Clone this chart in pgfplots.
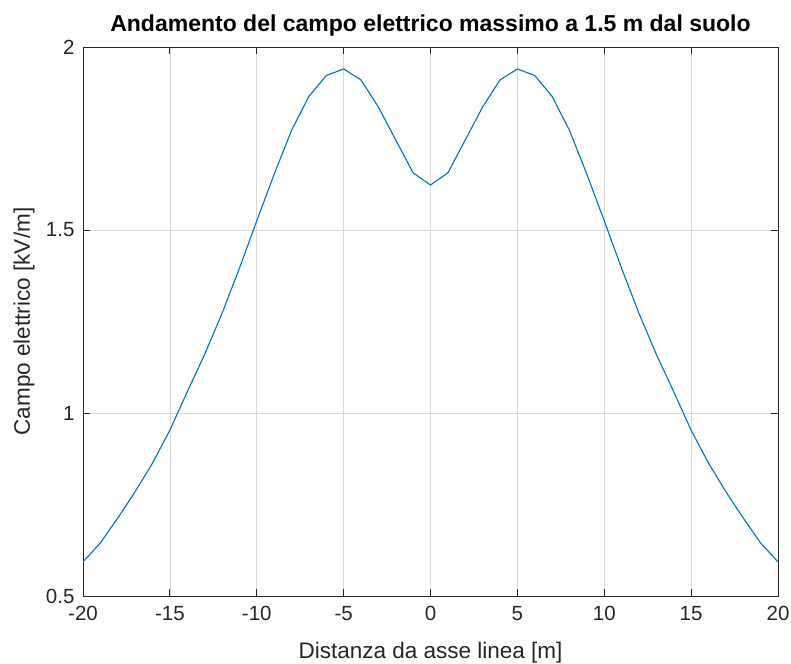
\documentclass[border=0pt]{standalone}
\usepackage{fontspec}
\setmainfont{Liberation Sans}
\usepackage{pgfplots}
\pgfplotsset{compat=1.18}

\definecolor{mlblue}{rgb}{0,0.447,0.741}
\definecolor{axgray}{rgb}{0.15,0.15,0.15}

\begin{document}
\begin{tikzpicture}
\begin{axis}[
    scale only axis,
    width=695pt, height=549pt,
    xmin=-20, xmax=20, ymin=0.5, ymax=2,
    xtick={-20,-15,...,20},
    ytick={0.5,1,1.5,2},
    yticklabels={0.5,1,1.5,2},
    tick align=inside,
    major tick length=7pt,
    axis line style={axgray, line width=0.8pt},
    tick style={axgray, line width=0.8pt},
    grid=major,
    major grid style={black!15, line width=0.7pt},
    /pgf/number format/assume math mode=true,
    ticklabel style={font=\fontsize{20.5}{22}\selectfont, text=axgray},
    xticklabel style={yshift=-7pt},
    yticklabel style={xshift=-5pt},
    title={\textbf{Andamento del campo elettrico massimo a 1.5 m dal suolo}},
    title style={font=\fontsize{23}{25}\selectfont, at={(axis description cs:0.5,1.0164)}, anchor=base},
    xlabel={Distanza da asse linea [m]},
    ylabel={Campo elettrico [kV/m]},
    label style={font=\fontsize{22.5}{25}\selectfont, text=axgray},
    xlabel style={at={(axis description cs:0.5,-0.113)}, anchor=base},
    ylabel style={at={(axis description cs:-0.0763,0.5)}, anchor=base},
]
\addplot[mlblue, line width=1.1pt] coordinates {
(-20,0.593) (-19,0.645) (-18,0.713) (-17,0.785) (-16,0.863) (-15,0.953)
(-14,1.058) (-13,1.160) (-12,1.272) (-11,1.395) (-10,1.525) (-9,1.652)
(-8,1.772) (-7,1.865) (-6,1.922) (-5,1.940) (-4,1.910) (-3,1.836)
(-2,1.746) (-1,1.656) (0,1.623)
(1,1.656) (2,1.746) (3,1.836) (4,1.910) (5,1.940) (6,1.922) (7,1.865)
(8,1.772) (9,1.652) (10,1.525) (11,1.395) (12,1.272) (13,1.160)
(14,1.058) (15,0.953) (16,0.863) (17,0.785) (18,0.713) (19,0.645) (20,0.593)
};
\end{axis}
\pgfresetboundingbox
\path (current axis.south west) ++(-83pt,-67pt) rectangle ++(791pt,663pt);
\end{tikzpicture}
\end{document}
